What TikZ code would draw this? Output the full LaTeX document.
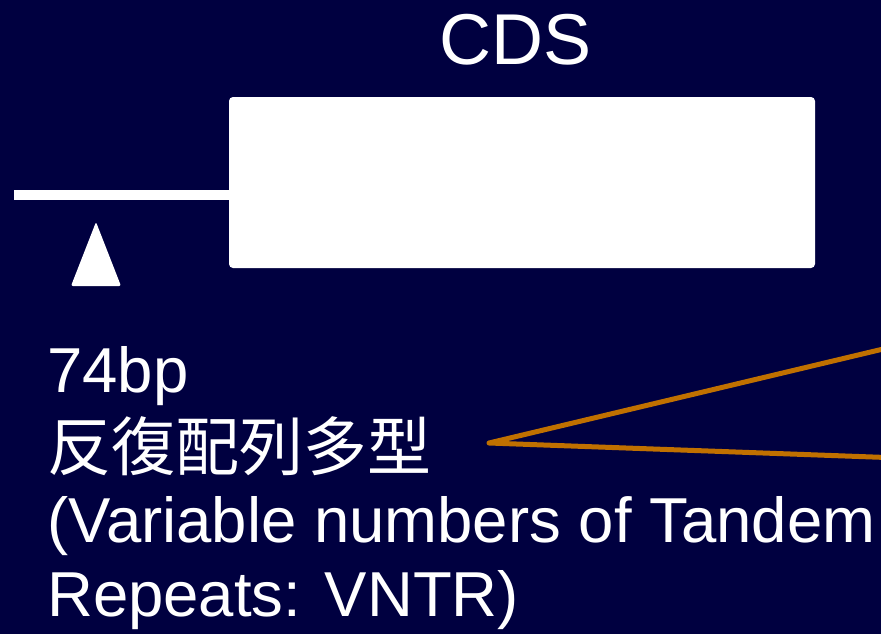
\documentclass[tikz,border=0pt]{standalone}
\usepackage{fontspec}
\setmainfont{Liberation Sans}
\newfontfamily\jpfont{Noto Sans CJK JP}
\definecolor{navybg}{RGB}{0,0,64}
\definecolor{ochre}{RGB}{192,112,0}
\begin{document}
\begin{tikzpicture}[x=1pt,y=-1pt,
  txt/.style={text=white,inner sep=0pt,anchor=base west,font=\fontsize{63.5}{76}\selectfont},
  boxw/.style={fill=white,draw=none,rounded corners=4pt,minimum width=586pt,minimum height=171pt,inner sep=0pt},
  pointer/.style={draw=ochre,line width=5pt,line join=round,line cap=round}]
\useasboundingbox (0,0) rectangle (881,634);
\fill[navybg] (0,0) rectangle (881,634);
\begin{scope}
\clip (0,0) rectangle (881,634);
% CDS label and box
\node[text=white,inner sep=0pt,anchor=base,font=\fontsize{72}{86}\selectfont] (cdslabel) at (516,65) {CDS};
\node[boxw] (box) at (522,182.5) {};
\coordinate (lstart) at (14,195);
\draw[white,line width=10pt] (lstart) -- (lstart -| box.west);
% triangle marker
\coordinate (tA) at (96,222);
\coordinate (tB) at (121,286);
\coordinate (tC) at (71,286);
\fill[white,rounded corners=2pt] (tA) -- (tB) -- (tC) -- cycle;
% texts
\node[txt] (t1) at (47,392) {74bp};
\node[txt,font=\jpfont\fontsize{64}{76}\selectfont] (t2) at (47,470) {反復配列多型};
\node[txt] (t3) at (47,542) {(Variable numbers of Tandem};
\node[txt] (t4) at (47,616) {Repeats: VNTR)};
% pointer lines
\coordinate (apex) at (489,443);
\coordinate (pU) at (900,345);
\coordinate (pD) at (900,458);
\draw[pointer] (pU) -- (apex) -- (pD);
\end{scope}
\end{tikzpicture}
\end{document}
